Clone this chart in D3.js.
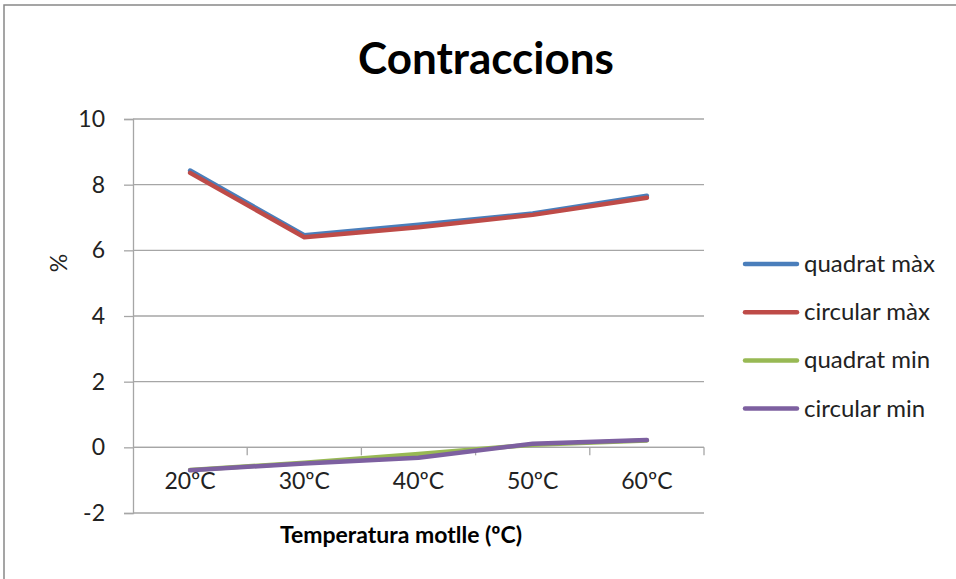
<!DOCTYPE html>
<html>
<head>
<meta charset="utf-8">
<script src="https://cdn.jsdelivr.net/npm/d3@7"></script>
<style>
  body { margin: 0; background: #fff; }
  svg { font-family: Lato, "Open Sans", sans-serif; }
</style>
</head>
<body>
<svg width="956" height="579"></svg>
<script>
// chart data
var categories = ["20ºC", "30ºC", "40ºC", "50ºC", "60ºC"];
var quadratMax = [8.43, 6.46, 6.78, 7.12, 7.66];
var circularMax = [8.36, 6.40, 6.70, 7.08, 7.60];
var quadratMin = [-0.69, -0.47, -0.20, 0.08, 0.21];
var circularMin = [-0.70, -0.49, -0.32, 0.11, 0.22];
var yTicks = [-2, 0, 2, 4, 6, 8, 10];

var series = [
  { name: "quadrat màx", values: quadratMax, color: "#4a7ebb" },
  { name: "circular màx", values: circularMax, color: "#be4b48" },
  { name: "quadrat min", values: quadratMin, color: "#98b954" },
  { name: "circular min", values: circularMin, color: "#7d60a0" }
];

var svg = d3.select("svg");

// outer border
svg.append("rect")
   .attr("x", 4).attr("y", 5)
   .attr("width", 960).attr("height", 590)
   .attr("fill", "none")
   .attr("stroke", "#888")
   .attr("stroke-width", 1.5);

var pLeft = 133, pRight = 704, pTop = 119, pBottom = 513;

var x = d3.scaleBand().domain(categories).range([pLeft, pRight]);
var y = d3.scaleLinear().domain([-2, 10]).range([pBottom, pTop]);

// gridlines
svg.append("g")
   .selectAll("line")
   .data(yTicks)
   .enter()
   .append("line")
   .attr("x1", pLeft).attr("x2", pRight)
   .attr("y1", function(d) { return y(d); })
   .attr("y2", function(d) { return y(d); })
   .attr("stroke", "#a6a6a6")
   .attr("stroke-width", 1.3);

// y axis (plain hyphen for negatives, like the original)
var yAxis = svg.append("g")
   .attr("transform", "translate(" + pLeft + ",0)")
   .call(d3.axisLeft(y).tickValues(yTicks).tickSize(9).tickPadding(19)
           .tickFormat(function(d) { return String(d); }));
yAxis.select(".domain").attr("stroke", "#a6a6a6").attr("stroke-width", 1.3);
yAxis.selectAll(".tick line").attr("stroke", "#a6a6a6").attr("stroke-width", 1.3);
yAxis.selectAll(".tick text")
     .attr("font-size", "23px")
     .attr("fill", "#222")
     .attr("font-family", "Lato, sans-serif");

// x axis at zero, ticks at category boundaries
var xAxisY = y(0);
svg.append("line")
   .attr("x1", pLeft).attr("x2", pRight)
   .attr("y1", xAxisY).attr("y2", xAxisY)
   .attr("stroke", "#a6a6a6").attr("stroke-width", 1.3);

var bounds = categories.map(function(c) { return x(c) + x.bandwidth(); });
svg.append("g")
   .selectAll("line")
   .data(bounds)
   .enter()
   .append("line")
   .attr("x1", function(d) { return d; })
   .attr("x2", function(d) { return d; })
   .attr("y1", xAxisY).attr("y2", xAxisY + 8)
   .attr("stroke", "#a6a6a6").attr("stroke-width", 1.3);

svg.append("g")
   .selectAll("text")
   .data(categories)
   .enter()
   .append("text")
   .attr("x", function(d) { return x(d) + x.bandwidth() / 2; })
   .attr("y", xAxisY + 42)
   .attr("text-anchor", "middle")
   .attr("font-size", "23px")
   .attr("fill", "#222")
   .text(function(d) { return d; });

// lines
var line = d3.line()
   .x(function(d, i) { return x(categories[i]) + x.bandwidth() / 2; })
   .y(function(d) { return y(d); });

series.forEach(function(s) {
  svg.append("path")
     .datum(s.values)
     .attr("d", line)
     .attr("fill", "none")
     .attr("stroke", s.color)
     .attr("stroke-width", 4.5)
     .attr("stroke-linecap", "round")
     .attr("stroke-linejoin", "round");
});

// legend
var legend = svg.append("g");
series.forEach(function(s, i) {
  var ly = 264 + i * 48.2;
  legend.append("line")
        .attr("x1", 745).attr("x2", 797)
        .attr("y1", ly).attr("y2", ly)
        .attr("stroke", s.color)
        .attr("stroke-width", 4.5)
        .attr("stroke-linecap", "round");
  legend.append("text")
        .attr("x", 804)
        .attr("y", ly + 8)
        .attr("font-size", "24px")
        .attr("fill", "#222")
        .text(s.name);
});

// title
svg.append("text")
   .attr("x", 486)
   .attr("y", 74)
   .attr("text-anchor", "middle")
   .attr("font-size", "44px")
   .attr("font-weight", "bold")
   .attr("fill", "#000")
   .text("Contraccions");

// axis titles
svg.append("text")
   .attr("x", 401)
   .attr("y", 543)
   .attr("text-anchor", "middle")
   .attr("font-size", "23px")
   .attr("font-weight", "bold")
   .attr("fill", "#000")
   .text("Temperatura motlle (ºC)");

svg.append("text")
   .attr("transform", "translate(67,263) rotate(-90)")
   .attr("text-anchor", "middle")
   .attr("font-size", "23px")
   .attr("fill", "#222")
   .text("%");
</script>
</body>
</html>
